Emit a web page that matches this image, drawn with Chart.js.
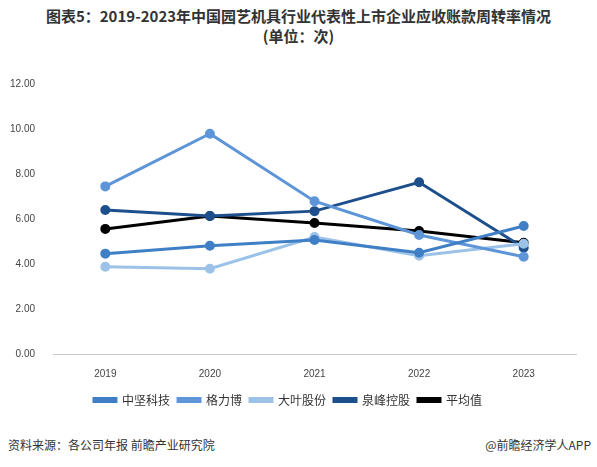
<!DOCTYPE html>
<html>
<head>
<meta charset="utf-8">
<script src="https://cdn.jsdelivr.net/npm/chart.js@4"></script>
<style>
  body { margin: 0; background: #fff; font-family: "Noto Sans CJK SC", sans-serif; }
  #wrap { position: relative; width: 597px; height: 467px; }
  #title { position: absolute; top: 6px; left: 0; width: 597px; text-align: center; font-size: 15px; font-weight: bold; color: #333; line-height: 20px; }
  #chartBox { position: absolute; left: 0; top: 68px; width: 590px; height: 348px; }
  #src { position: absolute; left: 8px; top: 436px; font-size: 12px; color: #333; }
  #app { position: absolute; right: 6px; top: 436px; font-size: 12px; color: #333; }
</style>
</head>
<body>
<div id="wrap">
  <div id="title">图表5：2019-2023年中国园艺机具行业代表性上市企业应收账款周转率情况<br>(单位：次)</div>
  <div id="chartBox"><canvas id="c"></canvas></div>
  <div id="src">资料来源：各公司年报 前瞻产业研究院</div>
  <div id="app">@前瞻经济学人APP</div>
</div>
<script>
const years = ["2019", "2020", "2021", "2022", "2023"];
const zhongjian = [4.46, 4.81, 5.07, 4.50, 5.69];
const gelibo = [7.45, 9.79, 6.79, 5.29, 4.32];
const daye = [3.88, 3.79, 5.20, 4.37, 4.90];
const quanfeng = [6.40, 6.13, 6.35, 7.63, 4.72];
const average = [5.56, 6.13, 5.82, 5.47, 4.94];
const yTicks = [0, 2, 4, 6, 8, 10, 12];

function series(label, data, color) {
    return {
        label: label, data: data,
        borderColor: color, backgroundColor: color,
        borderWidth: 3, pointRadius: 3.5, pointHoverRadius: 3.5, tension: 0
    };
}

new Chart(document.getElementById("c"), {
    type: "line",
    data: {
        labels: years,
        datasets: [
            series("中坚科技", zhongjian, "#3f7fc6"),
            series("格力博", gelibo, "#5d95d8"),
            series("大叶股份", daye, "#9cc2e8"),
            series("泉峰控股", quanfeng, "#1d4f8c"),
            series("平均值", average, "#000000")
        ]
    },
    options: {
        responsive: true,
        maintainAspectRatio: false,
        animation: false,
        layout: { padding: { top: 8, right: 14 } },
        plugins: {
            legend: {
                position: "bottom",
                labels: {
                    boxWidth: 22, boxHeight: 3, padding: 8,
                    color: "#333", font: { size: 12, family: "Noto Sans CJK SC" }
                }
            },
            tooltip: { enabled: false }
        },
        scales: {
            x: {
                offset: true,
                grid: { display: false },
                border: { color: "#cccccc" },
                ticks: { color: "#444", font: { size: 10 }, padding: 6 }
            },
            y: {
                min: 0, max: 12,
                afterBuildTicks: axis => { axis.ticks = yTicks.map(v => ({ value: v })); },
                grid: { display: false },
                border: { display: false },
                ticks: { color: "#444", font: { size: 10 }, padding: 10, callback: v => v.toFixed(2) }
            }
        }
    }
});
</script>
</body>
</html>
